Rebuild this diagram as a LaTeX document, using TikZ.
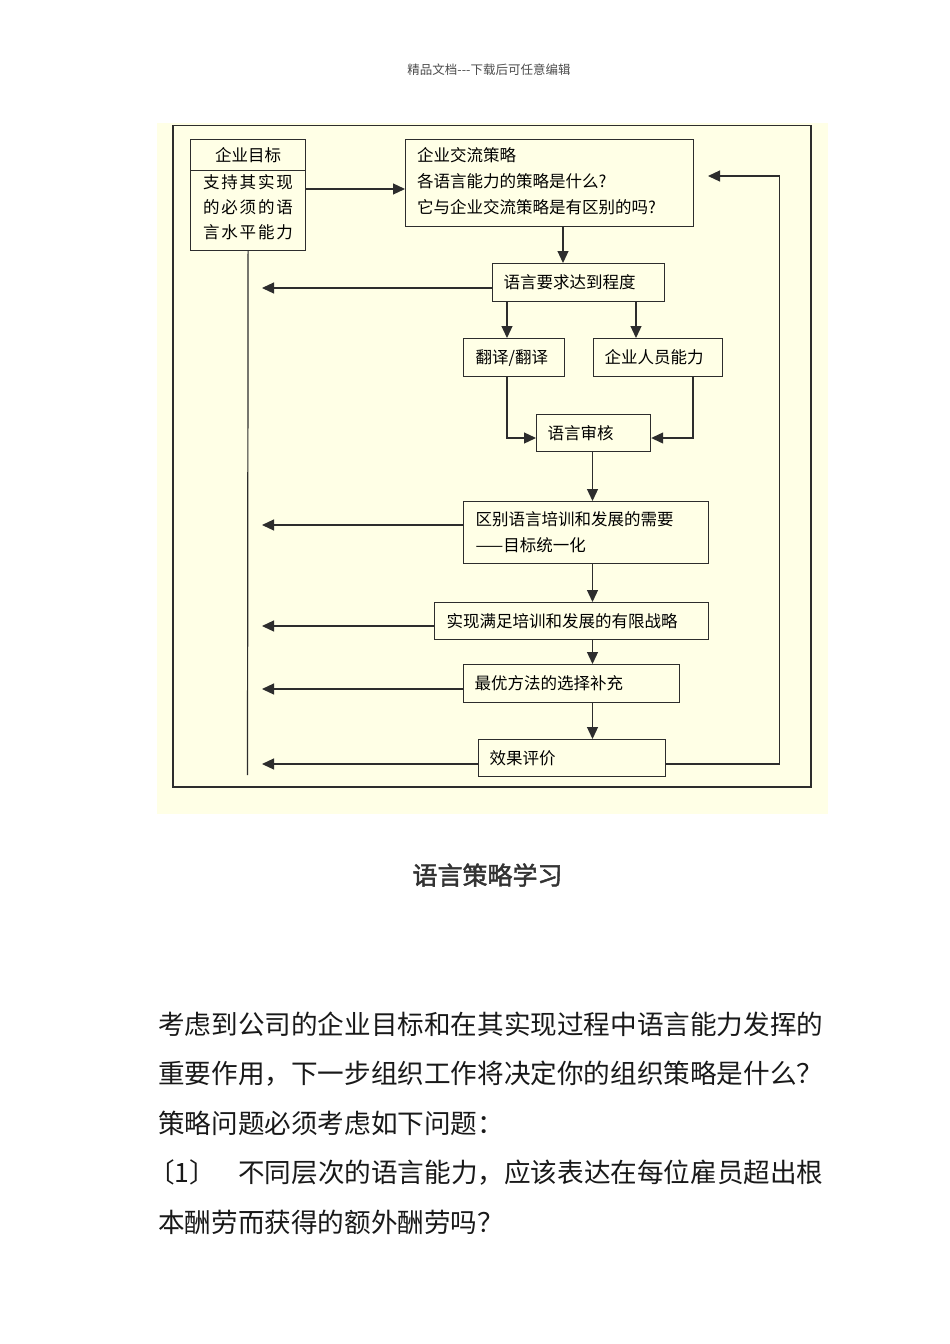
\documentclass[tikz,border=0pt]{standalone}
\usepackage{fontspec}
\newfontfamily\cjk{Noto Sans CJK SC}
\newfontfamily\cjkwide[LetterSpace=11]{Noto Sans CJK SC}
\newfontfamily\cjkbold[FakeBold=1.8]{Noto Sans CJK SC}
\usetikzlibrary{arrows.meta}
\definecolor{bgyellow}{RGB}{255,255,230}
\definecolor{linec}{RGB}{45,45,45}
\begin{document}
\begin{tikzpicture}[x=1pt,y=-1pt,
  box/.style={draw=linec, line width=1.2pt, rectangle, anchor=north west, inner ysep=0pt,
    align=left, font=\cjk\fontsize{16.5}{26}\selectfont, text=black},
  arr/.style={draw=linec, line width=1.2pt, -{Triangle[length=12pt,width=11pt]}},
  conn/.style={draw=linec, line width=1.2pt},
  para/.style={anchor=west, inner sep=0pt, font=\cjk\fontsize{26.6}{30}\selectfont, text=black!90}]
\useasboundingbox (0,0) rectangle (950,1344);
\fill[white] (0,0) rectangle (950,1344);
% background panel and frame
\fill[bgyellow] (157,123) rectangle (828,814);
\draw[conn] (173,125.5) rectangle (811,787);

% header
\node[font=\cjk\fontsize{12.5}{15}\selectfont, text=black!70] (hdr) at (489,70) {精品文档---下载后可任意编辑};

% boxes
\node[box, minimum width=115pt, minimum height=31pt, inner xsep=12pt, text width=91pt, align=center] (goalhead) at (190,139) {企业目标};
\node[box, minimum width=115pt, minimum height=80pt, inner xsep=12pt] (goalbody) at (190,170) {};
\node[inner sep=0pt, align=center, font=\cjkwide\fontsize{16.5}{25}\selectfont, text=black] (goaltext) at (248,207)
  {支持其实现\\的必须的语\\言水平能力};
\node[box, minimum width=288pt, minimum height=87pt, inner xsep=12pt] (strategy) at (405,139) {};
\node[inner sep=0pt, anchor=west, align=left, font=\cjk\fontsize{16.5}{26}\selectfont, text=black] (strattext) at (417,181)
  {企业交流策略\\各语言能力的策略是什么?\\它与企业交流策略是有区别的吗?};
\node[box, minimum width=172pt, minimum height=38pt, inner xsep=11pt, text width=150pt] (req) at (492,263) {语言要求达到程度};
\node[box, minimum width=101pt, minimum height=38pt, inner xsep=12pt, text width=77pt] (trans) at (463,338) {翻译/翻译};
\node[box, minimum width=129pt, minimum height=38pt, inner xsep=11pt, text width=107pt] (staff) at (593,338) {企业人员能力};
\node[box, minimum width=114pt, minimum height=37pt, inner xsep=11pt, text width=92pt] (audit) at (536,414) {语言审核};
\node[box, minimum width=245pt, minimum height=62pt, inner xsep=12pt, text width=221pt] (diff) at (463,501)
  {区别语言培训和发展的需要\\——目标统一化};
\node[box, minimum width=274pt, minimum height=37pt, inner xsep=12pt, text width=250pt] (realize) at (434,602) {实现满足培训和发展的有限战略};
\node[box, minimum width=216pt, minimum height=38pt, inner xsep=11pt, text width=194pt] (best) at (463,664) {最优方法的选择补充};
\node[box, minimum width=187pt, minimum height=37pt, inner xsep=11pt, text width=165pt] (eval) at (478,739) {效果评价};

% helper coordinates
\coordinate (t1) at (262,288);
\coordinate (t2) at (262,525);
\coordinate (t3) at (262,626);
\coordinate (t4) at (262,689);
\coordinate (t5) at (262,764);
\coordinate (ya) at (0,189);
\coordinate (yb) at (0,438);
\coordinate (xa) at (563,0);
\coordinate (xb) at (507,0);
\coordinate (xc) at (636,0);
\coordinate (xd) at (592.5,0);
\coordinate (xe) at (693,0);
\coordinate (vend) at (247.5,775);
\coordinate (fb) at (779.5,764);
\coordinate (fbt) at (708,176);

% connectors
\draw[conn] (goalbody.south) -- (vend);
\draw[arr] (goalbody.east |- ya) -- (strategy.west |- ya);
\draw[arr] (strategy.south -| xa) -- (req.north -| xa);
\draw[arr] (req.west |- t1) -- (t1);
\draw[arr] (req.south -| xb) -- (trans.north -| xb);
\draw[arr] (req.south -| xc) -- (staff.north -| xc);
\draw[arr] (trans.south -| xb) |- (audit.west |- yb);
\draw[arr] (staff.south -| xe) |- (audit.east |- yb);
\draw[arr] (audit.south -| xd) -- (diff.north -| xd);
\draw[arr] (diff.west |- t2) -- (t2);
\draw[arr] (diff.south -| xd) -- (realize.north -| xd);
\draw[arr] (realize.west |- t3) -- (t3);
\draw[arr] (realize.south -| xd) -- (best.north -| xd);
\draw[arr] (best.west |- t4) -- (t4);
\draw[arr] (best.south -| xd) -- (eval.north -| xd);
\draw[arr] (eval.west |- t5) -- (t5);
\draw[arr] (eval.east |- t5) -- (fb) |- (fbt);

% title
\node[font=\cjkbold\fontsize{25}{30}\selectfont, text=black!80] (title) at (487.5,875) {语言策略学习};

% paragraph
\node[para] (p1) at (158,1024) {考虑到公司的企业目标和在其实现过程中语言能力发挥的};
\node[para] (p2) at (158,1073.5) {重要作用，下一步组织工作将决定你的组织策略是什么？};
\node[para] (p3) at (158,1123) {策略问题必须考虑如下问题：};
\node[para] (p4a) at (148,1172.5) {〔1〕};
\node[para] (p4b) at (238,1172.5) {不同层次的语言能力，应该表达在每位雇员超出根};
\node[para] (p5) at (158,1222) {本酬劳而获得的额外酬劳吗？};
\end{tikzpicture}
\end{document}
